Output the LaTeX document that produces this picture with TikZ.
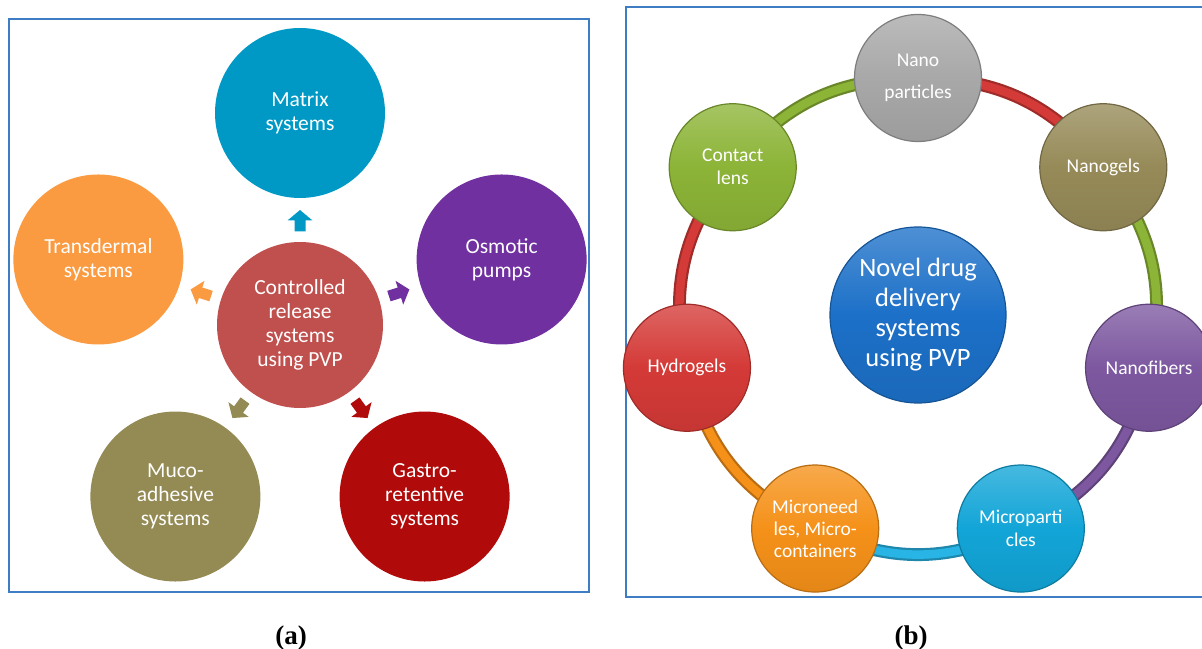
\documentclass[tikz,border=0pt]{standalone}
\usepackage{fontspec}
\setmainfont{Carlito}
\newfontfamily\captionfont{Liberation Serif}
\usetikzlibrary{calc}
\pgfdeclarelayer{background}
\pgfsetlayers{background,main}

% frame
\definecolor{frameblue}{RGB}{62,124,196}
% panel (a)
\definecolor{matrixc}{RGB}{0,153,198}
\definecolor{osmoc}{RGB}{112,48,160}
\definecolor{gastroc}{RGB}{176,10,10}
\definecolor{mucoc}{RGB}{148,138,84}
\definecolor{transc}{RGB}{250,155,66}
\definecolor{crsc}{RGB}{192,80,77}
% panel (b)
\definecolor{grayb}{RGB}{168,168,168}
\definecolor{oliveb}{RGB}{150,138,88}
\definecolor{purpleb}{RGB}{125,88,160}
\definecolor{cyanb}{RGB}{18,165,215}
\definecolor{orangeb}{RGB}{245,145,25}
\definecolor{redb}{RGB}{212,58,55}
\definecolor{greenb}{RGB}{140,180,55}
\definecolor{blueb}{RGB}{28,112,200}
\definecolor{tubecyan}{RGB}{40,180,228}

\tikzset{
  panelframe/.style={draw=frameblue, line width=2.2pt},
  flatdisc/.style={circle, fill=#1, minimum size=170pt, inner sep=0pt,
    text=white, align=center, font=\fontsize{21.5}{24}\selectfont},
  ball/.style={circle, minimum size=127pt, inner sep=0pt, text=white,
    align=center, font=\fontsize{19.5}{23}\selectfont,
    top color=#1!78!white, bottom color=#1!93!black, middle color=#1,
    draw=#1!75!black, line width=1.2pt},
  tube/.style={draw=#1!75!black, line width=2.2pt, double=#1,
    double distance=8.5pt},
  blockarrow/.pic={
    \fill[pic actions] (-5.5,-10.5) -- (5.5,-10.5) -- (5.5,0.5)
      -- (12.5,0.5) -- (0,11) -- (-12.5,0.5) -- (-5.5,0.5) -- cycle;},
  caption/.style={font=\captionfont\bfseries\fontsize{27}{30}\selectfont,
    anchor=base}
}

\begin{document}
\begin{tikzpicture}[x=1pt,y=1pt]
\useasboundingbox (0,0) rectangle (1202,648);
\clip (0,0) rectangle (1202,648);

% ---------- panel (a): controlled release systems ----------
\draw[panelframe] (9,629) rectangle (589,56);

\node[flatdisc=crsc, minimum size=166pt] (crs) at (300,323)
  {Controlled\\release\\systems\\using PVP};
\node[flatdisc=matrixc] (matrix) at ($(crs)+(90:212)$) {Matrix\\systems};
\node[flatdisc=osmoc]   (osmo)   at ($(crs)+(18:212)$) {Osmotic\\pumps};
\node[flatdisc=gastroc] (gastro) at ($(crs)+(-54:212)$) {Gastro-\\retentive\\systems};
\node[flatdisc=mucoc]   (muco)   at ($(crs)+(-126:212)$) {Muco-\\adhesive\\systems};
\node[flatdisc=transc]  (trans)  at ($(crs)+(162:212)$) {Transdermal\\systems};

\pic[fill=matrixc, rotate=0]    at ($(crs)+(90:104)$)   {blockarrow};
\pic[fill=osmoc,   rotate=-72]  at ($(crs)+(18:104)$)   {blockarrow};
\pic[fill=gastroc, rotate=-144] at ($(crs)+(-54:104)$)  {blockarrow};
\pic[fill=mucoc,   rotate=144]  at ($(crs)+(-126:104)$) {blockarrow};
\pic[fill=transc,  rotate=72]   at ($(crs)+(162:104)$)  {blockarrow};

\node[caption] (capa) at (291,4) {(a)};

% ---------- panel (b): novel drug delivery systems ----------
\draw[panelframe] (626,641) rectangle (1215,51);

\node[ball=blueb, minimum size=176pt, font=\fontsize{26.5}{30}\selectfont]
  (ndds) at (918,333) {Novel drug\\delivery\\systems\\using PVP};

\node[ball=grayb]   (nano)  at ($(ndds)+(90:237)$)     {Nano\\[9pt]particles};
\node[ball=oliveb]  (gels)  at ($(ndds)+(38.57:237)$)  {Nanogels};
\node[ball=purpleb] (fibre) at ($(ndds)+(-12.86:237)$) {Nanofibers};
\node[ball=cyanb]   (mpart) at ($(ndds)+(-64.29:237)$) {Microparti\\cles};
\node[ball=orangeb, font=\fontsize{19.5}{22}\selectfont]
  (needle) at ($(ndds)+(-115.71:237)$) {Microneed\\les, Micro-\\containers};
\node[ball=redb]    (hydro) at ($(ndds)+(-167.14:237)$) {Hydrogels};
\node[ball=greenb]  (lens)  at ($(ndds)+(141.43:237)$) {Contact\\lens};

\begin{pgfonlayer}{background}
  \draw[tube=redb]     (nano.center)   to[bend left=25.7] (gels.center);
  \draw[tube=greenb]   (gels.center)   to[bend left=25.7] (fibre.center);
  \draw[tube=purpleb]  (fibre.center)  to[bend left=25.7] (mpart.center);
  \draw[tube=tubecyan] (mpart.center)  to[bend left=25.7] (needle.center);
  \draw[tube=orangeb]  (needle.center) to[bend left=25.7] (hydro.center);
  \draw[tube=redb]     (hydro.center)  to[bend left=25.7] (lens.center);
  \draw[tube=greenb]   (lens.center)   to[bend left=25.7] (nano.center);
\end{pgfonlayer}

\node[caption] (capb) at (911,4) {(b)};
\end{tikzpicture}
\end{document}
